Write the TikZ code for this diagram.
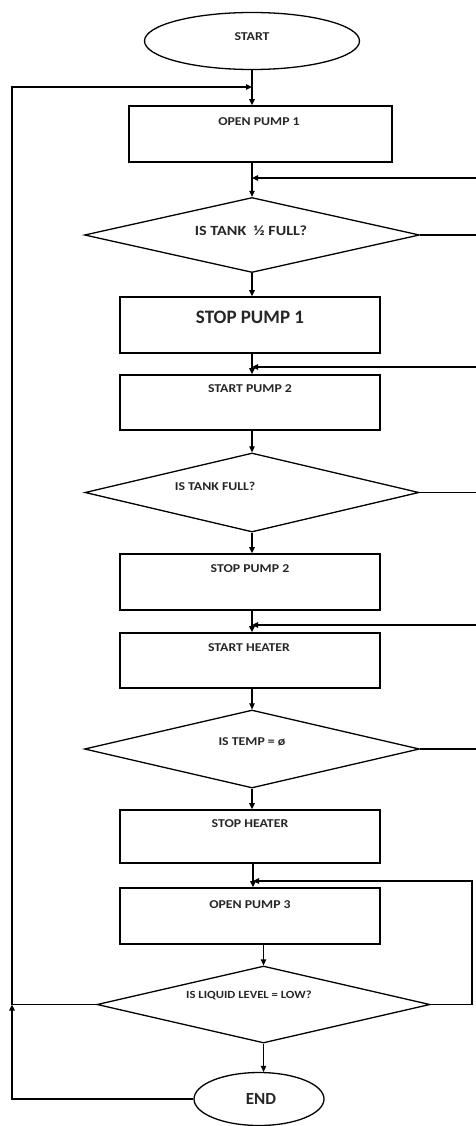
\documentclass[tikz,border=0pt]{standalone}
\usepackage{fontspec}
\usetikzlibrary{shapes.geometric,arrows.meta}
\newfontfamily\labfont[FakeStretch=1.15]{Carlito}
\newfontfamily\bigfont{Carlito}
\begin{document}
\begin{tikzpicture}[x=1pt,y=-1pt,
  box/.style={draw, line width=1.7pt, rectangle, minimum width=260pt, minimum height=56pt, inner sep=0pt},
  dia/.style={draw, line width=1.3pt, diamond, minimum width=335pt, minimum height=76pt, inner sep=0pt},
  oval/.style={draw, line width=1.3pt, ellipse, inner sep=0pt},
  txt/.style={font=\labfont\bfseries\fontsize{12}{14}\selectfont, inner sep=0pt, text=black!85},
  bigtxt/.style={font=\bigfont\bfseries\fontsize{19}{21}\selectfont, inner sep=0pt, text=black!85},
  arr/.style={line width=1.2pt, -{Triangle[length=6pt,width=5.5pt]}},
  looparr/.style={line width=1.6pt, -{Triangle[length=6pt,width=5.5pt]}}]
\useasboundingbox (0,0) rectangle (476,1126);
% shapes
\node[oval, minimum width=215pt, minimum height=57pt] (s) at (252,41) {};
\node[box, minimum width=263pt] (b1) at (260.5,134) {};
\node[dia, minimum height=75pt] (d1) at (252,235) {};
\node[box] (b2) at (250,325) {};
\node[box, minimum height=55pt] (b3) at (250,402.5) {};
\node[dia, minimum height=79pt, minimum width=334pt] (d2) at (252,492.5) {};
\node[box] (b4) at (250,582) {};
\node[box, minimum height=55pt] (b5) at (250,660.5) {};
\node[dia, minimum height=78pt] (d3) at (252,749) {};
\node[box, minimum height=53pt] (b6) at (250,836.5) {};
\node[box] (b7) at (250,916) {};
\node[dia, minimum height=77pt, minimum width=333pt] (d4) at (263.5,1004.5) {};
\node[oval, minimum width=130pt, minimum height=53pt] (e) at (259,1099) {};
% texts
\node[txt] (ts) at (252,37) {START};
\node[txt] (t1) at (259,122) {OPEN PUMP 1};
\node[txt, font=\labfont\bfseries\fontsize{14}{16}\selectfont] (td1) at (251,231) {IS TANK\ \ ½ FULL?};
\node[bigtxt] (t2) at (250,317) {STOP PUMP 1};
\node[txt] (t3) at (250,389) {START PUMP 2};
\node[txt] (td2) at (215,486) {IS TANK FULL?};
\node[txt] (t4) at (250,569) {STOP PUMP 2};
\node[txt] (t5) at (249,648) {START HEATER};
\node[txt] (td3) at (252,742) {IS TEMP = ø};
\node[txt] (t6) at (250,824) {STOP HEATER};
\node[txt] (t7) at (250,905) {OPEN PUMP 3};
\node[txt, font=\labfont\bfseries\fontsize{11}{13}\selectfont] (td4) at (249,995) {IS LIQUID LEVEL = LOW?};
\node[bigtxt, font=\bigfont\bfseries\fontsize{17}{19}\selectfont] (te) at (261,1099) {END};
% helper coordinates
\coordinate (mx) at (252,0);
\coordinate (rx) at (477.5,0);
\coordinate (rx4) at (472,0);
\coordinate (lx) at (12,0);
\coordinate (jt) at (252,87);
\coordinate (j1) at (252,178);
\coordinate (j2) at (252,367);
\coordinate (j3) at (252,625);
\coordinate (j4) at (253,881);
% main flow
\draw[arr] (s.south) -- (s.south |- b1.north);
\draw[arr] (mx |- b1.south) -- (d1.north);
\draw[arr] (d1.south) -- (d1.south |- b2.north);
\draw[arr] (mx |- b2.south) -- (mx |- b3.north);
\draw[arr] (mx |- b3.south) -- (d2.north);
\draw[arr] (d2.south) -- (d2.south |- b4.north);
\draw[arr] (mx |- b4.south) -- (mx |- b5.north);
\draw[arr] (mx |- b5.south) -- (d3.north);
\draw[arr] (d3.south) -- (d3.south |- b6.north);
\draw[arr] (j4 |- b6.south) -- (j4 |- b7.north);
\draw[arr] (d4.north |- b7.south) -- (d4.north);
\draw[arr] (d4.south) -- (d4.south |- e.north);
% feedback loops (right)
\draw[arr] (d1.east) -- (d1.east -| rx) |- (j1);
\draw[arr] (d2.east) -- (d2.east -| rx) |- (j2);
\draw[arr] (d3.east) -- (d3.east -| rx) |- (j3);
\draw[arr] (d4.east) -- (d4.east -| rx4) |- (j4);
% left loop
\draw[looparr] (d4.west) -- (d4.west -| lx) |- (jt);
\draw[arr] (e.west) -| (d4.west -| lx);
\end{tikzpicture}
\end{document}
